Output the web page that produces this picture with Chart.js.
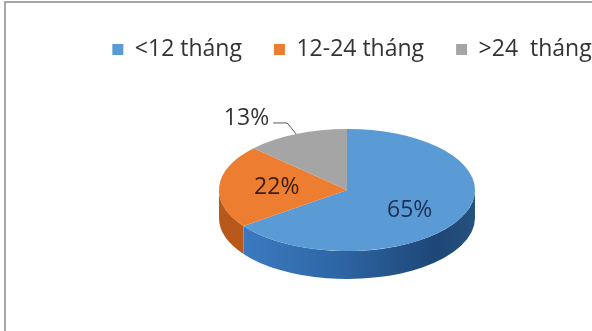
<!DOCTYPE html>
<html>
<head>
<meta charset="utf-8">
<script src="https://cdn.jsdelivr.net/npm/chart.js@4.4.1/dist/chart.umd.min.js"></script>
<style>
  html, body { margin: 0; padding: 0; overflow: hidden; background: #fff; width: 592px; height: 331px; }
  #frame { position: absolute; left: 4px; top: 1px; width: 800px; height: 400px; border: 2px solid #a8a8a8; box-sizing: border-box; }
  #c { position: absolute; left: 0; top: 0; }
</style>
</head>
<body>
<div id="frame"></div>
<canvas id="c" width="694" height="331"></canvas>
<script>
// Duration groups and their shares (%)
const categories = ['<12 tháng', '12-24 tháng', '>24  tháng'];
const shares = [65, 22, 13];

// Face and label colours per slice
const topColors = ['#5b9bd5', '#ed7d31', '#a5a5a5'];
const labelColors = ['#1c2f55', '#3a1d08', '#333333'];

const TILT = 0.477;       // vertical squash of the disc
const DEPTH = 28;         // thickness of the side wall
const LEGEND_H = 56;      // height reserved for the legend row
const LEGEND_SHIFT = 5;   // horizontal nudge of the legend row
const OUTSIDE_BELOW = 15; // slices smaller than this get an outside label

function sideFill(ctx, i, cx, r) {
  if (i === 0) {
    const g = ctx.createLinearGradient(cx - r, 0, cx + r, 0);
    g.addColorStop(0, '#3f7ec6');
    g.addColorStop(0.45, '#2e67a6');
    g.addColorStop(0.85, '#1e4676');
    g.addColorStop(1, '#25527f');
    return g;
  }
  if (i === 1) return '#b9581b';
  return '#808080';
}

const pie3d = {
  id: 'pie3d',
  beforeInit(chart) {
    const legend = chart.legend;
    if (legend) {
      const fit = legend.fit;
      legend.fit = function () { fit.call(this); this.height = LEGEND_H; };
      const draw = legend.draw;
      legend.draw = function (area) {
        // let descenders run past the reserved row while drawing
        const b = this.bottom, h = this.height;
        this.bottom = b + 20; this.height = h + 20;
        this.ctx.save();
        this.ctx.translate(LEGEND_SHIFT, 0);
        draw.call(this, area);
        this.ctx.restore();
        this.bottom = b; this.height = h;
      };
    }
  },
  beforeDatasetsDraw(chart) {
    const ctx = chart.ctx;
    const arcs = chart.getDatasetMeta(0).data;
    const cx = arcs[0].x, cy = arcs[0].y, r = arcs[0].outerRadius, ry = r * TILT;
    // side wall of the front half of the disc
    arcs.forEach((a, i) => {
      [[0, Math.PI], [2 * Math.PI, 3 * Math.PI]].forEach(([lo, hi]) => {
        const s = Math.max(a.startAngle, lo), e = Math.min(a.endAngle, hi);
        if (e > s) {
          ctx.beginPath();
          ctx.ellipse(cx, cy, r, ry, 0, s, e);
          ctx.ellipse(cx, cy + DEPTH, r, ry, 0, e, s, true);
          ctx.closePath();
          ctx.fillStyle = sideFill(ctx, i, cx, r);
          ctx.fill();
        }
      });
    });
    // squash the library's round pie into the top face
    ctx.save();
    ctx.translate(cx, cy);
    ctx.scale(1, TILT);
    ctx.translate(-cx, -cy);
  },
  afterDatasetsDraw(chart) {
    const ctx = chart.ctx;
    ctx.restore();
    const arcs = chart.getDatasetMeta(0).data;
    const values = chart.data.datasets[0].data;
    ctx.save();
    ctx.font = '23px "Open Sans"';
    arcs.forEach((a, i) => {
      const m = (a.startAngle + a.endAngle) / 2;
      const r = a.outerRadius, ry = r * TILT;
      const text = values[i] + '%';
      ctx.fillStyle = labelColors[i];
      if (values[i] >= OUTSIDE_BELOW) {
        ctx.textAlign = 'center';
        ctx.textBaseline = 'middle';
        ctx.fillText(text, a.x + Math.cos(m) * r * 0.55, a.y + Math.sin(m) * ry * 0.72);
      } else {
        const ex = a.x + Math.cos(m) * r, ey = a.y + Math.sin(m) * ry;
        const bx = ex - 9, by = ey - 11;
        const tx = bx - 14;
        ctx.strokeStyle = '#595959';
        ctx.lineWidth = 1;
        ctx.beginPath();
        ctx.moveTo(ex, ey);
        ctx.lineTo(bx, by);
        ctx.lineTo(tx, by);
        ctx.stroke();
        ctx.textAlign = 'right';
        ctx.textBaseline = 'alphabetic';
        ctx.fillText(text, tx - 4, by + 2);
      }
    });
    ctx.restore();
  }
};

Chart.defaults.font.family = '"Open Sans", sans-serif';

new Chart(document.getElementById('c'), {
  type: 'pie',
  data: {
    labels: categories,
    datasets: [{
      data: shares,
      backgroundColor: topColors,
      borderWidth: 0
    }]
  },
  options: {
    responsive: false,
    animation: false,
    events: [],
    layout: { padding: { top: 6, bottom: 13, left: 0, right: 0 } },
    plugins: {
      tooltip: { enabled: false },
      legend: {
        position: 'top',
        labels: {
          boxWidth: 11,
          boxHeight: 11,
          padding: 32,
          color: '#333333',
          font: { size: 23 }
        }
      }
    }
  },
  plugins: [pie3d]
});
</script>
</body>
</html>
